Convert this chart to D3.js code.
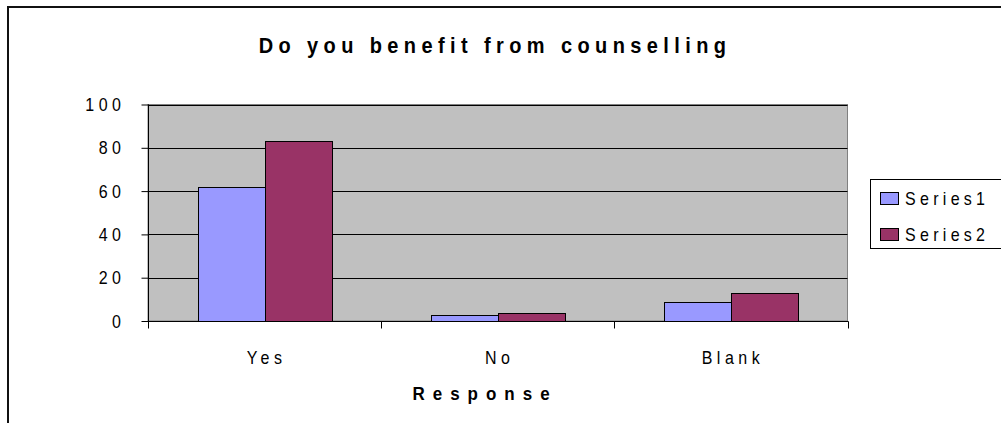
<!DOCTYPE html>
<html>
<head>
<meta charset="utf-8">
<script src="https://cdn.jsdelivr.net/npm/d3@7"></script>
<style>
  html, body { margin: 0; padding: 0; background: #fff; }
  svg { display: block; font-family: "Liberation Sans", Arial, sans-serif; }
</style>
</head>
<body>
<svg id="chart" width="1001" height="423"></svg>
<script>
// Survey responses, two series per answer
const categories = ["Yes", "No", "Blank"];
const seriesNames = ["Series1", "Series2"];
const series1 = [62, 3, 9];
const series2 = [83, 3.5, 13];
const yTicks = [0, 20, 40, 60, 80, 100];
const seriesColors = ["#9999ff", "#993366"];

const svg = d3.select("#chart");
const W = 1001, H = 423;
const STRETCH = 1.2; // text is drawn slightly taller than wide

// Places a text node at (tx, ty) with the vertical stretch applied
function placeText(sel, tx, ty, k = STRETCH) {
  return sel.attr("transform", (d, i) => {
    const px = typeof tx === "function" ? tx(d, i) : tx;
    const py = typeof ty === "function" ? ty(d, i) : ty;
    return `translate(${px},${py}) scale(1,${k})`;
  });
}

// Outer chart frame
svg.append("rect")
  .attr("x", 8).attr("y", 7)
  .attr("width", W + 20).attr("height", H + 20)
  .attr("fill", "#fff").attr("stroke", "#111").attr("stroke-width", 2);

const plot = { left: 148, top: 104.5, right: 847.5, bottom: 321 };

const x = d3.scaleBand().domain(categories).range([plot.left, plot.right]);
const y = d3.scaleLinear().domain([0, 100]).range([plot.bottom, plot.top]);

// Plot area background
svg.append("rect")
  .attr("x", plot.left).attr("y", plot.top)
  .attr("width", plot.right - plot.left).attr("height", plot.bottom - plot.top)
  .attr("fill", "#c0c0c0").attr("stroke", "#808080").attr("stroke-width", 1);

// Horizontal gridlines
svg.append("g").selectAll("line").data(yTicks.filter(d => d > 0)).join("line")
  .attr("x1", plot.left).attr("x2", plot.right)
  .attr("y1", d => Math.round(y(d)) + 0.5).attr("y2", d => Math.round(y(d)) + 0.5)
  .attr("stroke", "#000").attr("stroke-width", 1);

// Bars: gap of 150% of a bar width inside each band
const barW = x.bandwidth() / 3.5;
const groups = categories.map((c, i) => ({ c, vals: [series1[i], series2[i]] }));
const gBars = svg.append("g");
groups.forEach(g => {
  g.vals.forEach((v, s) => {
    const bx = x(g.c) + x.bandwidth() * 0.75 / 3.5 + s * barW;
    gBars.append("rect")
      .attr("x", Math.round(bx) + 0.5)
      .attr("y", Math.round(y(v)) + 0.5)
      .attr("width", Math.round(barW))
      .attr("height", Math.round(y(0)) - Math.round(y(v)))
      .attr("fill", seriesColors[s])
      .attr("stroke", "#000").attr("stroke-width", 1);
  });
});

// Y axis
const yAxis = d3.axisLeft(y).tickValues(yTicks).tickSize(7).tickPadding(0).tickFormat(d3.format("d"));
const gy = svg.append("g").attr("transform", `translate(${plot.left + 0.5},0)`).call(yAxis);
gy.select(".domain").attr("stroke", "#000").attr("d", `M0,${plot.top}V${plot.bottom + 0.5}`);
gy.selectAll(".tick line").attr("stroke", "#000");
gy.selectAll(".tick text").remove();
placeText(gy.selectAll(".tick").append("text"), -23, 6)
  .attr("text-anchor", "end")
  .attr("fill", "#000")
  .style("font-size", "16px").style("letter-spacing", "4.5px")
  .text(d => d);

// X axis with ticks at category boundaries
const gx = svg.append("g").attr("transform", `translate(0,${Math.round(plot.bottom) + 0.5})`);
gx.append("line").attr("x1", plot.left).attr("x2", plot.right + 1).attr("stroke", "#000");
const bounds = categories.map(c => x(c)).concat([plot.right]);
gx.selectAll("line.tk").data(bounds).join("line").attr("class", "tk")
  .attr("x1", d => Math.round(d) + 0.5).attr("x2", d => Math.round(d) + 0.5)
  .attr("y1", 0).attr("y2", 7).attr("stroke", "#000");
placeText(gx.selectAll("text").data(categories).join("text"),
    d => x(d) + x.bandwidth() / 2 + 2, 42)
  .attr("text-anchor", "middle").attr("fill", "#000")
  .style("font-size", "16px").style("letter-spacing", "4.5px")
  .text(d => d);

// Titles
placeText(svg.append("text"), 495, 53, 1.12)
  .attr("text-anchor", "middle")
  .style("font-size", "20px").style("font-weight", "bold").style("letter-spacing", "5.4px")
  .text("Do you benefit from counselling");

placeText(svg.append("text"), 485, 400, 1.12)
  .attr("text-anchor", "middle")
  .style("font-size", "17px").style("font-weight", "bold").style("letter-spacing", "8px")
  .text("Response");

// Legend
const lg = svg.append("g");
lg.append("rect").attr("x", 870.5).attr("y", 179.5).attr("width", 160).attr("height", 69)
  .attr("fill", "#fff").attr("stroke", "#000");
seriesNames.forEach((n, i) => {
  const yy = 192 + i * 36;
  lg.append("rect").attr("x", 880.5).attr("y", yy + 0.5).attr("width", 18).attr("height", 12)
    .attr("fill", seriesColors[i]).attr("stroke", "#000");
  placeText(lg.append("text"), 905, yy + 13)
    .style("font-size", "16px").style("letter-spacing", "4.3px")
    .text(n);
});
</script>
</body>
</html>
